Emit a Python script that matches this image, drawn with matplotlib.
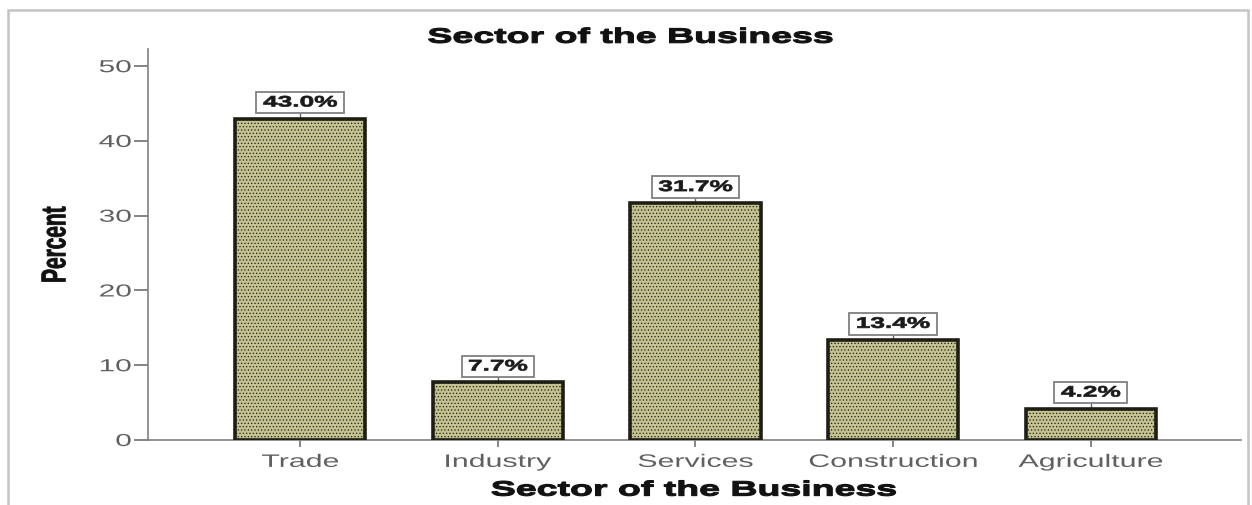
import matplotlib
matplotlib.use("Agg")
import matplotlib.pyplot as plt
from matplotlib.patches import Rectangle
from matplotlib.patheffects import AbstractPathEffect
from matplotlib.transforms import Affine2D

sectors = ["Trade", "Industry", "Services", "Construction", "Agriculture"]
percent = [43.0, 7.7, 31.7, 13.4, 4.2]
y_ticks = [0, 10, 20, 30, 40, 50]


class StretchX(AbstractPathEffect):
    """Widen a drawn path horizontally about its centre or right edge,
    optionally thickening glyph outlines with a stroke."""

    def __init__(self, sx, anchor="center", stroke=0.0):
        super().__init__()
        self.sx = sx
        self.anchor = anchor
        self.stroke = stroke

    def draw_path(self, renderer, gc, tpath, affine, rgbFace=None):
        ext = tpath.get_extents(affine)
        ref = ext.x1 if self.anchor == "right" else (ext.x0 + ext.x1) / 2
        wide = affine + Affine2D().translate(-ref, 0).scale(self.sx, 1).translate(ref, 0)
        gc0 = renderer.new_gc()
        gc0.copy_properties(gc)
        if self.stroke and rgbFace is not None:
            gc0.set_linewidth(self.stroke)
            gc0.set_foreground(rgbFace)
        renderer.draw_path(gc0, tpath, wide, rgbFace)
        gc0.restore()


plt.rcParams["font.family"] = ["Liberation Sans", "DejaVu Sans"]
plt.rcParams["hatch.color"] = "#aaa777"
plt.rcParams["hatch.linewidth"] = 0.5

fig = plt.figure(figsize=(12.52, 5.06), dpi=100)
ax = fig.add_axes([148 / 1252, 1 - 441 / 506, (1241 - 148) / 1252, (441 - 50) / 506])

# outer frame of the chart
fig.patches.append(Rectangle((8 / 1252, -0.01), (1248 - 8) / 1252, 1 - 11 / 506 + 0.01,
                             transform=fig.transFigure, fill=False,
                             edgecolor="#c4c4c4", linewidth=1.8))

x = range(len(sectors))
ax.bar(x, percent, width=0.66, color="#c4c290", edgecolor="#1e1e14",
       linewidth=2.6, hatch=".....", zorder=3)

for xi, v in zip(x, percent):
    ax.plot([xi, xi], [v, v + 0.6], color="#666666", linewidth=1, zorder=2)
    t = ax.annotate(f"{v:.1f}%", (xi, v), xytext=(0, 11.5), textcoords="offset points",
                    ha="center", va="center", fontsize=11, fontweight="bold",
                    color="#1a1a1a",
                    bbox=dict(boxstyle="square,pad=0.25", facecolor="white",
                              edgecolor="#808080", linewidth=1.3))
    t.set_path_effects([StretchX(1.72, stroke=0.5)])
    t.get_bbox_patch().set_path_effects([StretchX(1.72)])

ax.set_xlim(-0.77, 4.76)
ax.set_ylim(0, 52.3)
ax.set_yticks(y_ticks)
ax.set_xticks(list(x))
ax.set_xticklabels(sectors)

for side in ("top", "right"):
    ax.spines[side].set_visible(False)
for side in ("left", "bottom"):
    ax.spines[side].set_color("#808080")
    ax.spines[side].set_linewidth(1.2)

ax.tick_params(axis="both", colors="#707070", labelcolor="#606060", width=1.2)
ax.tick_params(axis="y", labelsize=12.5, length=10, pad=2)
ax.tick_params(axis="x", labelsize=13, length=5, pad=5)

for lbl in ax.get_xticklabels():
    lbl.set_path_effects([StretchX(1.68)])
for lbl in ax.get_yticklabels():
    lbl.set_path_effects([StretchX(1.72, anchor="right")])

title = ax.set_title("Sector of the Business", fontsize=15, fontweight="bold",
                     color="#111111", x=0.442, pad=4.5)
title.set_path_effects([StretchX(1.8, stroke=0.8)])
xlab = ax.set_xlabel("Sector of the Business", fontsize=15, fontweight="bold",
                     color="#111111", labelpad=7)
xlab.set_path_effects([StretchX(1.8, stroke=0.8)])
ylab = ax.set_ylabel("Percent", fontsize=15, fontweight="bold", color="#111111",
                     labelpad=34)
ylab.set_path_effects([StretchX(1.65, stroke=0.6)])

fig.savefig("out.png", dpi=100, facecolor="white")
